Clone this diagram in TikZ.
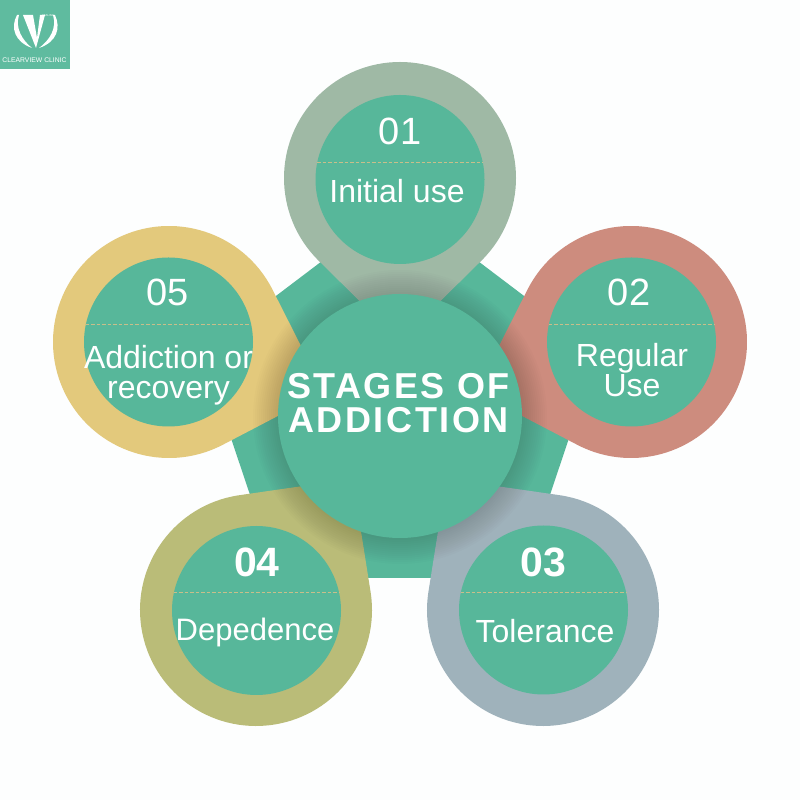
\documentclass[tikz,border=0pt]{standalone}
\usepackage{fontspec}
\setmainfont{Liberation Sans}
\newfontfamily\headfont[LetterSpace=7]{Liberation Sans}
\usepackage{tikz}
\definecolor{clinicgreen}{HTML}{57B79A}
\definecolor{pinsage}{HTML}{9FB9A5}
\definecolor{pinred}{HTML}{CD8C7E}
\definecolor{pinblue}{HTML}{9FB2BB}
\definecolor{pinolive}{HTML}{BABC78}
\definecolor{pinyellow}{HTML}{E3C97C}
\definecolor{dashtan}{HTML}{C9BE8A}
\definecolor{paper}{HTML}{FDFEFE}
\tikzset{
    x=1pt, y=1pt,
    stagenum/.style={text=white, font=\fontsize{38}{38}\selectfont, inner sep=0pt},
    stagenumbold/.style={text=white, font=\fontsize{41}{41}\selectfont\bfseries, inner sep=0pt},
    stagelabel/.style={text=white, font=\fontsize{32}{30.5}\selectfont, align=center, inner sep=0pt},
    headline/.style={text=white, font=\fontsize{36}{35}\selectfont\headfont\bfseries, align=center, inner sep=0pt},
    stagedash/.style={dashtan, line width=1pt, dash pattern=on 3.5pt off 2pt},
    logotext/.style={text=white, inner sep=0pt},
}

\begin{document}
\begin{tikzpicture}
\useasboundingbox (0,0) rectangle (800,800);
\fill[paper] (0,0) rectangle (800,800);

% logo
\fill[clinicgreen!95!white] (0,731) rectangle (70,800);
\fill[white] (23,785) -- (33,785) -- (37,762) -- (40,785) -- (45,785) -- (36,752) -- cycle;
\fill[white] (17,785) .. controls (10,772) and (15,758) .. (32,752) .. controls (22,760) and (15,772) .. (19,785) -- cycle;
\fill[white] (55,785) .. controls (61,772) and (57,758) .. (39,752) .. controls (50,760) and (57,772) .. (53,785) -- cycle;
\node[logotext, font=\fontsize{2.8}{3}\selectfont] (healing) at (48,784) {HEALING};
\node[logotext, font=\fontsize{6.8}{7}\selectfont] (clinic) at (34.5,740) {CLEARVIEW CLINIC};

% pentagon behind everything
\fill[clinicgreen] (400,598) -- (598,448) -- (522,222) -- (278,222) -- (202,448) -- cycle;

% the five pins
\foreach \cx/\cy/\ang/\col in {400/622/-90/pinsage, 631/458/197.8/pinred, 543/190/126.4/pinblue, 256/190/53.6/pinolive, 169/458/-17.8/pinyellow}{
    \begin{scope}[shift={(\cx,\cy)}]
    \fill[\col] (\ang:163) -- ({\ang+45}:116) arc[start angle=\ang+45, delta angle=270, radius=116] -- cycle;
    \end{scope}
}

% shadow of the middle circle
\foreach \r in {123,125,...,147}{
    \fill[black, opacity=0.011] (400,383) circle (\r);
}

% inner discs and dashes
\foreach \cx/\cy/\dy in {400/620.5/637.5, 631.5/458/475.5, 543.5/190/207.5, 256.5/189.5/207.5, 168.5/458/475.5}{
    \fill[clinicgreen] (\cx,\cy) circle (84.5);
    \draw[stagedash] ({\cx-83},\dy) -- ({\cx+83},\dy);
}

% middle circle
\fill[clinicgreen] (400,384) circle (122);
\node[headline] (title) at (398.5,397) {STAGES OF\\[-1pt]ADDICTION};

\node[stagenum] (numa) at (400,669) {01};
\node[stagelabel] (laba) at (397,609) {Initial use};
\node[stagenum] (numb) at (629,508) {02};
\node[stagelabel] (labb) at (632,430) {Regular\\Use};
\node[stagenumbold] (numc) at (543,238) {03};
\node[stagelabel] (labc) at (545,169) {Tolerance};
\node[stagenumbold] (numd) at (257,238) {04};
\node[stagelabel, font=\fontsize{31}{31}\selectfont] (labd) at (255,168) {Depedence};
\node[stagenum] (nume) at (168,508) {05};
\node[stagelabel] (labe) at (168.5,425) {Addiction or\\recovery};
\end{tikzpicture}
\end{document}
